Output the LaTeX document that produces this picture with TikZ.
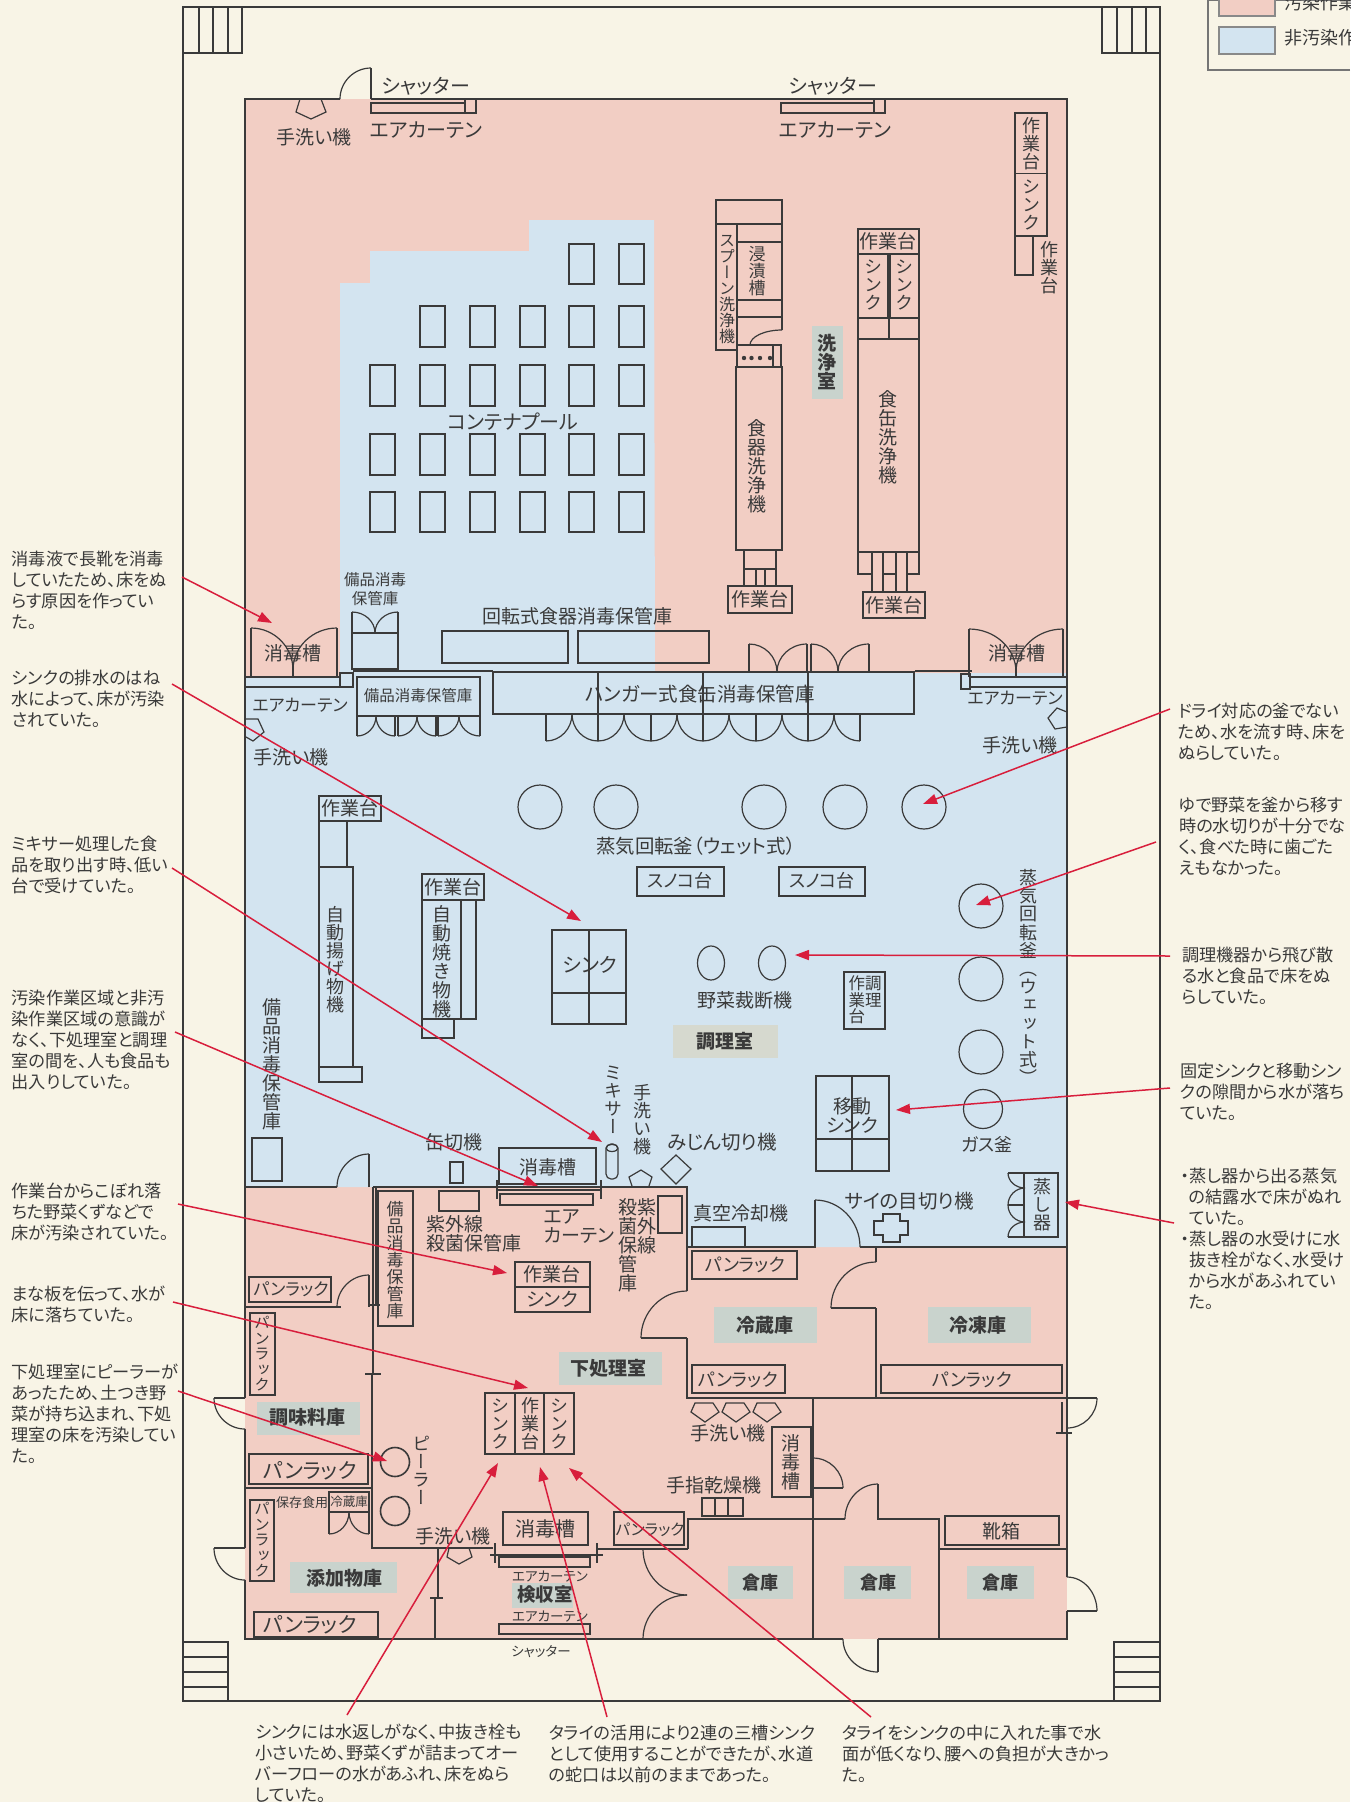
\documentclass[tikz,border=0pt]{standalone}
\usepackage{fontspec}
\usetikzlibrary{calc,arrows.meta}
\setmainfont{Noto Sans CJK JP}
\newfontfamily\vf[RawFeature={+vert}]{Noto Sans CJK JP}
\newfontfamily\pf[RawFeature={+palt}]{Noto Sans CJK JP}
\definecolor{paper}{HTML}{F8F4E6}
\definecolor{pinkz}{HTML}{F2CEC4}
\definecolor{bluez}{HTML}{D3E4F0}
\definecolor{ink}{HTML}{3A3A3A}
\definecolor{patchc}{HTML}{C9D3CD}
\definecolor{patchd}{HTML}{D6D9CF}
\definecolor{redl}{HTML}{D81E3C}
\newcommand\fs[1]{\fontsize{#1}{#1}\selectfont}
\newcommand\fp[1]{\pf\fontsize{#1}{#1}\selectfont}
\newcounter{nn}
\tikzset{
  wall/.style={draw=ink,line width=1.6pt,line join=miter},
  fur/.style={draw=ink,line width=1.2pt},
  tx/.style={font=\fp{19},inner sep=0pt,text=ink,align=center},
  vtx/.style={font=\vf\fs{18},inner sep=0pt,text=ink,align=center},
  note/.style={font=\pf\fontsize{17.2}{21}\selectfont,inner sep=0pt,text=ink,align=left,anchor=west},
  callout/.style={draw=redl,line width=1.5pt,-{Triangle[length=14pt,width=10pt]}}
}
\newcommand\T[4][]{\stepcounter{nn}\node[tx,#1] (t\arabic{nn}) at (#2,#3) {#4};}
\newcommand\Tv[4][]{\stepcounter{nn}\node[vtx,#1] (t\arabic{nn}) at (#2,#3) {#4};}
\newcommand\R[4]{\draw[fur] (#1,#2) rectangle (#3,#4);}
\newcommand\aH[4]{\draw[fur] (#1,#2) .. controls ($(#1,#2)!0.55!(#3,#2)$) and ($(#3,#4)!0.55!(#3,#2)$) .. (#3,#4);}
\newcommand\aV[4]{\draw[fur] (#1,#2) .. controls ($(#1,#2)!0.55!(#1,#4)$) and ($(#3,#4)!0.55!(#1,#4)$) .. (#3,#4);}
\begin{document}
\begin{tikzpicture}[x=1pt,y=-1pt]
\useasboundingbox (0,0) rectangle (1350,1802);
\fill[paper] (0,0) rectangle (1350,1802);
% floor colours
\fill[pinkz] (245,99) rectangle (1067,1639);
\fill[bluez] (529,220) -- (654,220) -- (655,673) -- (340,673) -- (340,283) -- (370,283) -- (370,251) -- (529,251) -- cycle;
\fill[bluez] (245,677) -- (340,677) -- (340,673) -- (1067,673) -- (1067,1247) -- (687,1247) -- (687,1187) -- (245,1187) -- cycle;
% patches
\fill[patchc] (812,326) rectangle (843,399);
\fill[patchd] (673,1025) rectangle (778,1058);
\fill[patchc] (559,1352) rectangle (662,1385);
\fill[patchc] (257,1402) rectangle (360,1435);
\fill[patchc] (290,1562) rectangle (397,1593);
\fill[patchc] (512,1583) rectangle (573,1608);
\fill[patchc] (714,1307) rectangle (817,1343);
\fill[patchc] (928,1307) rectangle (1031,1343);
\fill[patchc] (728,1566) rectangle (793,1599);
\fill[patchc] (844,1566) rectangle (911,1599);
\fill[patchc] (967,1566) rectangle (1034,1599);
% site boundary and stairs
\draw[wall] (183,7) rectangle (1160,1701);
\draw[fur] (183,53) -- (242,53) -- (242,7) (199,7) -- (199,53) (213,7) -- (213,53) (228,7) -- (228,53);
\draw[fur] (1160,53) -- (1102,53) -- (1102,7) (1117,7) -- (1117,53) (1132,7) -- (1132,53) (1146,7) -- (1146,53);
\draw[fur] (183,1642) -- (228,1642) -- (228,1701) (183,1657) -- (228,1657) (183,1672) -- (228,1672) (183,1687) -- (228,1687);
\draw[fur] (1159,1642) -- (1114,1642) -- (1114,1701) (1114,1657) -- (1159,1657) (1114,1672) -- (1159,1672) (1114,1687) -- (1159,1687);
% legend
\draw[draw=ink!70,line width=1.2pt,fill=paper] (1350,70) -- (1208,70) -- (1208,0) -- (1350,0);
\filldraw[fill=pinkz,draw=ink!60,line width=1.2pt] (1219,-3) rectangle (1275,16);
\filldraw[fill=bluez,draw=ink!60,line width=1.2pt] (1219,27) rectangle (1275,54);
\T[anchor=west,font=\fs{18}]{1284}{3}{汚染作業}
\T[anchor=west,font=\fs{18}]{1284}{38}{非汚染作業}
% outer walls
\draw[wall] (340,99) -- (245,99) -- (245,1398) (245,1429) -- (245,1548) (245,1580) -- (245,1639) -- (843,1639)
  (878,1639) -- (1067,1639) -- (1067,1611) (1067,1577) -- (1067,99) -- (371,99);
% inner walls
\draw[wall] (245,1187) -- (337,1187) (369,1187) -- (369,1154);
\draw[wall] (373,1187) -- (687,1187) -- (687,1291) (687,1338) -- (641,1338) (687,1338) -- (687,1398) -- (1067,1398);
\draw[fur] (497,1190) -- (601,1190) (497,1180) -- (497,1199) (601,1180) -- (601,1199);
\draw[wall] (373,1187) -- (373,1374) (372,1374) -- (372,1548) -- (493,1548);
\draw[fur] (369,1275) -- (369,1307) (376,1187) -- (376,1305) (368,1305) -- (380,1305) (365,1374) -- (381,1374);
\draw[wall] (245,1307) -- (341,1307) (245,1488) -- (372,1488);
\draw[wall] (687,1247) -- (815,1247) -- (815,1200) (860,1247) -- (1067,1247);
\draw[wall] (876,1247) -- (876,1262) (876,1308) -- (831,1308) (876,1308) -- (876,1398);
\draw[fur] (813,1398) -- (813,1639) (813,1488) -- (843,1488);
\draw[wall] (688,1549) -- (688,1519) -- (845,1519) (878,1484) -- (878,1519) -- (939,1519) -- (939,1639) (939,1549) -- (1067,1549);
\draw[wall] (597,1549) -- (688,1549) (490,1555) -- (603,1555) (495,1543) -- (495,1563) (597,1543) -- (597,1563);
\draw[wall] (438,1548) -- (438,1598) (435,1598) -- (435,1639) (430,1598) -- (443,1598);
% doors
\draw[wall] (371,99) -- (371,68);
\aH{371}{68}{340}{99}
\aH{369}{1154}{337}{1187}
\aH{369}{1275}{337}{1307}
\aH{687}{1291}{641}{1338}
\aH{815}{1200}{860}{1247}
\aH{876}{1262}{831}{1308}
\aH{878}{1484}{845}{1519}
\aV{843}{1488}{813}{1458}
\draw[wall] (878,1639) -- (878,1672);
\aH{878}{1672}{843}{1639}
\draw[wall] (1067,1611) -- (1097,1611) (1067,1398) -- (1097,1398) (245,1398) -- (214,1398) (245,1548) -- (214,1548);
\aV{1097}{1611}{1067}{1577}
\aV{1097}{1398}{1067}{1428}
\draw[fur] (1062,1402) -- (1062,1433) (1056,1433) -- (1072,1433);
\aV{214}{1398}{245}{1429}
\aV{214}{1548}{245}{1580}
\aV{643}{1549}{687}{1595}
\aV{643}{1639}{687}{1595}
% top fittings
\draw[fur] (300,99) -- (296,112) -- (311,119) -- (326,112) -- (321,99);
\T{314}{137}{手洗い機}
\R{371}{103}{465}{113} \R{465}{99}{476}{113}
\R{781}{103}{874}{113} \R{874}{99}{885}{113}
\T[font=\fp{20}]{426}{86}{シャッター} \T[font=\fp{20}]{426}{130}{エアカーテン}
\T[font=\fp{20}]{833}{86}{シャッター} \T[font=\fp{20}]{835}{130}{エアカーテン}
% container pool
\foreach \yy/\hh/\cols in {244/284/{569,619},306/347/{420,470,520,569,619},365/406/{370,420,470,520,569,619},434/475/{370,420,470,520,569,619},492/532/{370,420,470,520,569,619}}{
  \foreach \xx in \cols { \draw[fur] (\xx,\yy) rectangle ({\xx+25},\hh); }
}
\T[font=\fp{20}]{513}{422}{コンテナプール}
% washing room, right stack
\R{1015}{113}{1047}{173.5} \R{1015}{173.5}{1047}{236} \R{1015}{236}{1033}{275}
\Tv{1031}{144}{作\\業\\台} \Tv{1031}{205}{シ\\ン\\ク} \Tv{1049}{268}{作\\業\\台}
% spoon washer group
\R{716}{200}{782}{224} \R{716}{224}{737}{350}
\draw[fur] (782,224) -- (782,330) (737,242) -- (782,242) (737,300) -- (782,300) (737,317) -- (782,317) (737,345) -- (782,345);
\aH{782}{330}{750}{345}
\Tv[font=\vf\fs{16}]{727}{290}{ス\\プ\\ー\\ン\\洗\\浄\\機}
\Tv[font=\vf\fs{17}]{757}{271}{浸\\漬\\槽}
\R{737}{345}{781}{367}
\draw[fur] (773,345) -- (773,367);
\foreach \xx in {744,751.5,760,770} { \fill[ink] (\xx,358) circle (2.2); }
\R{736}{367}{782}{550}
\Tv[font=\vf\fs{19}]{757}{466}{食\\器\\洗\\浄\\機}
\R{744}{550}{776}{586}
\draw[fur] (744,569) -- (776,569) (756,569) -- (756,586) (765,569) -- (765,586);
\R{728}{586}{792}{613} \T{760}{599}{作業台}
\Tv[font=\vf\bfseries\fs{19}]{827}{362}{洗\\浄\\室}
% can washer
\R{858}{229}{919}{254} \T{888}{241}{作業台}
\R{858}{254}{888}{318} \R{890}{254}{919}{318}
\Tv{873}{285}{シ\\ン\\ク} \Tv{904}{285}{シ\\ン\\ク}
\R{858}{318}{919}{339} \draw[fur] (889,318) -- (889,339);
\R{858}{339}{919}{552}
\Tv[font=\vf\fs{19}]{888}{437}{食\\缶\\洗\\浄\\機}
\draw[fur] (858,552) -- (858,574) -- (872,574) (872,552) -- (872,592) (883,552) -- (883,592) (896,552) -- (896,592) (907,552) -- (907,592) (907,574) -- (919,574) -- (919,552) (883,574) -- (896,574);
\R{863}{592}{925}{618} \T{894}{605}{作業台}
% disinfect rooms top
\draw[fur] (251,677) -- (251,628) (337,677) -- (337,628) (293,663) -- (293,677);
\aH{251}{628}{293}{670} \aH{337}{628}{293}{670}
\T{293}{653}{消毒槽}
\draw[fur] (969,677) -- (969,629) (1063,677) -- (1063,629) (1016,663) -- (1016,677);
\aH{969}{629}{1016}{672} \aH{1063}{629}{1016}{672}
\T{1017}{653}{消毒槽}
% small cabinet
\T[font=\fp{15.5}]{375}{580}{備品消毒} \T[font=\fp{15.5}]{375}{599}{保管庫}
\R{352}{633}{398}{669}
\draw[fur] (352,633) -- (352,612) (398,633) -- (398,612);
\aH{352}{612}{375}{633} \aH{398}{612}{375}{633}
\T{577}{616}{回転式食器消毒保管庫}
\R{442}{631}{568}{663} \R{578}{631}{709}{663}
% air curtain strips
\R{245}{677}{340}{687} \R{340}{673}{353}{687}
\draw[wall] (353,671) -- (493,671) (915,671) -- (972,671);
\R{961}{674}{970}{689} \R{970}{677}{1067}{687}
\T[font=\fp{17}]{300}{705}{エアカーテン} \T[font=\fp{17}]{1015}{698}{エアカーテン}
\draw[fur] (246,719) -- (258,719) -- (264,732) -- (253,741) -- (246,737);
\T{291}{757}{手洗い機}
\draw[fur] (1067,712) -- (1057,708) -- (1048,718) -- (1055,729) -- (1067,727);
\T{1020}{745}{手洗い機}
% storage units
\R{357}{677}{480}{716} \T[font=\fp{15.5}]{418}{696}{備品消毒保管庫}
\foreach \xa/\xb/\xc in {357/376/395,398/417/436,438/459/480}{
  \draw[fur] (\xa,716) -- (\xa,736) (\xc,716) -- (\xc,736);
  \aH{\xa}{736}{\xb}{716} \aH{\xc}{736}{\xb}{716}
}
\R{493}{672}{914}{714}
\T[font=\fp{19.5}]{700}{694}{ハンガー式食缶消毒保管庫}
\foreach \xx in {598,703,808} { \draw[fur] (\xx,672) -- (\xx,714); }
\foreach \xa/\xb/\xc in {546/572/598,598/624/651,651/677/703,703/729/756,756/782/808,808/834/860}{
  \draw[fur] (\xa,714) -- (\xa,741) (\xc,714) -- (\xc,741);
  \aH{\xa}{741}{\xb}{714} \aH{\xc}{741}{\xb}{714}
}
\foreach \xa/\xb/\xc in {749/777/807,811/838/869}{
  \draw[fur] (\xa,672) -- (\xa,644) (\xc,672) -- (\xc,644);
  \aH{\xa}{644}{\xb}{672} \aH{\xc}{644}{\xb}{672}
}
% kettles
\foreach \xx in {540,616,764,845,924} { \draw[fur] (\xx,807) circle (22); }
\foreach \yy in {906,979,1052} { \draw[fur] (981,\yy) circle (22); }
\draw[fur] (983,1109) circle (19.5);
\T[font=\fp{19.4}]{696}{846}{蒸気回転釜（ウェット式）}
\T[font=\fp{18}]{987}{1144}{ガス釜}
\Tv[font=\vf\fontsize{18}{18.2}\selectfont]{1028}{977}{蒸\\気\\回\\転\\釜\\（\\ウ\\ェ\\ッ\\ト\\式\\）}
% cook room
\R{319}{796}{381}{821} \T{350}{808.5}{作業台}
\R{319}{821}{347}{867} \R{319}{867}{353}{1067} \R{319}{1067}{362}{1082}
\Tv{335}{960}{自\\動\\揚\\げ\\物\\機}
\R{422}{874}{484}{900} \T{453}{887}{作業台}
\R{422}{900}{461}{1019} \R{461}{900}{476}{1019} \R{422}{1019}{454}{1038}
\Tv[font=\vf\fs{19}]{442}{962}{自\\動\\焼\\き\\物\\機}
\R{552}{930}{626}{1024} \draw[fur] (589,930) -- (589,1024) (552,993) -- (626,993);
\T[font=\fp{20}]{590}{965}{シンク}
\R{637}{867}{724}{896} \T[font=\fp{18}]{680}{881}{スノコ台}
\R{779}{867}{865}{896} \T[font=\fp{18}]{822}{881}{スノコ台}
\draw[fur] (711,963) ellipse (13.5 and 17) (772,963) ellipse (13.5 and 17);
\T{745}{1000}{野菜裁断機}
\T[font=\pf\bfseries\fs{19}]{725}{1041}{調理室}
\R{844}{972}{885}{1029}
\T[font=\fp{16.5},align=left]{865}{1000}{作調\\業理\\台}
\R{816}{1076}{889}{1171} \draw[fur] (852,1076) -- (852,1171) (816,1139) -- (889,1139);
\T{852}{1115}{移動\\シンク}
\R{1024}{1173}{1058}{1237}
\draw[fur] (1008,1173) -- (1024,1173) (1008,1237) -- (1024,1237) (1008,1205) -- (1025,1205);
\aV{1008}{1173}{1025}{1188} \aH{1025}{1188}{1008}{1205} \aV{1008}{1205}{1025}{1222} \aH{1025}{1222}{1008}{1237}
\Tv{1042}{1205}{蒸\\し\\器}
\R{499}{1148}{596}{1184} \T{548}{1167}{消毒槽}
\Tv{613}{1100}{ミ\\キ\\サ\\ー}
\Tv{642}{1120}{手\\洗\\い\\機}
\draw[fur,rounded corners=5pt] (606,1144) rectangle (618,1179);
\draw[fur] (612,1148) ellipse (6 and 3.5);
\draw[fur] (632,1186) -- (629,1177) -- (641,1170) -- (652,1177) -- (649,1186);
\draw[fur] (676,1155) -- (691,1169) -- (676,1184) -- (661,1169) -- cycle;
\T[font=\fp{19.5}]{722}{1142}{みじん切り機}
\T{454}{1142}{缶切機}
\R{450}{1162}{463}{1183}
\Tv[font=\vf\fs{19}]{272}{1064}{備\\品\\消\\毒\\保\\管\\庫}
\R{252}{1138}{282}{1181}
% pre-treatment room
\R{378}{1191}{413}{1326} \Tv[font=\vf\fs{17}]{395}{1260}{備\\品\\消\\毒\\保\\管\\庫}
\R{439}{1191}{479}{1211}
\T[anchor=west,align=left]{426}{1234}{紫外線\\殺菌保管庫}
\R{500}{1194}{593}{1205}
\T[anchor=west,align=left]{544}{1227}{エア\\カーテン}
\T[anchor=west,align=left]{618}{1245}{殺紫\\菌外\\保線\\管\\庫}
\R{658}{1196}{682}{1233}
\R{515}{1262}{590}{1312} \draw[fur] (515,1287) -- (590,1287);
\T{552}{1274}{作業台} \T{552}{1299}{シンク}
\T[font=\pf\bfseries\fs{19}]{608}{1368}{下処理室}
\R{249}{1277}{331}{1302} \T[font=\fp{17}]{291}{1289}{パンラック}
\R{250}{1313}{275}{1395} \Tv[font=\vf\fs{15.5}]{262}{1354}{パ\\ン\\ラ\\ッ\\ク}
\T[font=\pf\bfseries\fs{19}]{307}{1417}{調味料庫}
\draw[wall] (485,1393) rectangle (574,1454) (515,1393) -- (515,1454) (544,1393) -- (544,1454);
\Tv{500}{1424}{シ\\ン\\ク} \Tv{530}{1424}{作\\業\\台} \Tv{559}{1424}{シ\\ン\\ク}
\Tv{421}{1470}{ピ\\ー\\ラ\\ー}
\draw[wall] (395,1462) circle (14.5) (395,1511) circle (14.5);
\R{249}{1454}{368}{1484} \T[font=\fp{21}]{310}{1471}{パンラック}
\R{250}{1500}{274}{1581} \Tv[font=\vf\fs{15.5}]{262}{1540}{パ\\ン\\ラ\\ッ\\ク}
\T[font=\fp{13}]{302}{1503}{保存食用}
\R{329}{1492}{369}{1512} \T[font=\fp{12.5}]{349}{1502}{冷蔵庫}
\draw[fur] (329,1512) -- (329,1534) (369,1512) -- (369,1534);
\aH{329}{1534}{349}{1512} \aH{369}{1534}{349}{1512}
\T[font=\pf\bfseries\fs{19}]{344}{1578}{添加物庫}
\R{254}{1612}{378}{1637} \T[font=\fp{21}]{310}{1625}{パンラック}
\T{453}{1536}{手洗い機}
\draw[fur] (449,1548) -- (447,1557) -- (459,1564) -- (472,1557) -- (469,1548);
\R{503}{1512}{588}{1545} \T[font=\fp{20}]{545}{1529}{消毒槽}
\R{614}{1512}{684}{1545} \T[font=\fp{15.5}]{650}{1530}{パンラック}
\R{499}{1557}{590}{1567} \R{499}{1624}{590}{1634}
\T[font=\fp{13.5}]{550}{1576}{エアカーテン}
\T[font=\fp{13.5}]{550}{1616}{エアカーテン}
\T[font=\pf\bfseries\fs{18.5}]{545}{1595}{検収室}
\T[font=\fp{13.5}]{541}{1652}{シャッター}
% right service rooms
\T{714}{1485}{手指乾燥機}
\R{702}{1498}{743}{1516} \draw[fur] (715,1498) -- (715,1516) (728,1498) -- (728,1516);
\R{772}{1427}{811}{1497} \Tv[font=\vf\fs{19}]{791}{1462}{消\\毒\\槽}
\foreach \cx in {705,736,767}{
  \draw[fur] ({\cx-10},1403) -- ({\cx+8},1403) -- ({\cx+14},1412) -- (\cx,1422) -- ({\cx-14},1412) -- cycle;
}
\T{728}{1433}{手洗い機}
\R{692}{1251}{797}{1279} \T[font=\fp{18}]{745}{1265}{パンラック}
\R{692}{1365}{785}{1393} \T[font=\fp{18}]{738}{1380}{パンラック}
\R{881}{1365}{1062}{1393} \T[font=\fp{18}]{972}{1380}{パンラック}
\T[font=\pf\bfseries\fs{19}]{765}{1325}{冷蔵庫}
\T[font=\pf\bfseries\fs{19}]{978}{1325}{冷凍庫}
\T{741}{1213}{真空冷却機}
\R{692}{1227}{745}{1247}
\T[font=\fp{19.5}]{909}{1201}{サイの目切り機}
\draw[fur] (883,1214) -- (900,1214) -- (900,1221) -- (908,1221) -- (908,1235) -- (900,1235) -- (900,1242) -- (883,1242) -- (883,1235) -- (874,1235) -- (874,1221) -- (883,1221) -- cycle;
\draw[wall] (945,1516) rectangle (1059,1545);
\T{1001}{1531}{靴箱}
\T[font=\pf\bfseries\fs{18}]{760}{1583}{倉庫}
\T[font=\pf\bfseries\fs{18}]{878}{1583}{倉庫}
\T[font=\pf\bfseries\fs{18}]{1000}{1583}{倉庫}
% annotations
\node[note] (nA) at (11.5,590) {消毒液で長靴を消毒\\していたため、床をぬ\\らす原因を作ってい\\た。};
\node[note] (nB) at (11.5,699) {シンクの排水のはね\\水によって、床が汚染\\されていた。};
\node[note] (nC) at (11.5,865) {ミキサー処理した食\\品を取り出す時、低い\\台で受けていた。};
\node[note] (nD) at (11.5,1040) {汚染作業区域と非汚\\染作業区域の意識が\\なく、下処理室と調理\\室の間を、人も食品も\\出入りしていた。};
\node[note] (nE) at (11.5,1212) {作業台からこぼれ落\\ちた野菜くずなどで\\床が汚染されていた。};
\node[note] (nF) at (11.5,1304) {まな板を伝って、水が\\床に落ちていた。};
\node[note] (nG) at (11.5,1414) {下処理室にピーラーが\\あったため、土つき野\\菜が持ち込まれ、下処\\理室の床を汚染してい\\た。};
\node[note] (nH) at (1178,732) {ドライ対応の釜でない\\ため、水を流す時、床を\\ぬらしていた。};
\node[note] (nI) at (1179,836) {ゆで野菜を釜から移す\\時の水切りが十分でな\\く、食べた時に歯ごた\\えもなかった。};
\node[note] (nJ) at (1182,976) {調理機器から飛び散\\る水と食品で床をぬ\\らしていた。};
\node[note] (nK) at (1180,1092) {固定シンクと移動シン\\クの隙間から水が落ち\\ていた。};
\node[note] (nL) at (1181,1239) {・蒸し器から出る蒸気\\\hspace*{8pt}の結露水で床がぬれ\\\hspace*{8pt}ていた。\\・蒸し器の水受けに水\\\hspace*{8pt}抜き栓がなく、水受け\\\hspace*{8pt}から水があふれてい\\\hspace*{8pt}た。};
\node[note] (nM) at (255,1763) {シンクには水返しがなく、中抜き栓も\\小さいため、野菜くずが詰まってオー\\バーフローの水があふれ、床をぬら\\していた。};
\node[note] (nN) at (549,1754) {タライの活用により2連の三槽シンク\\として使用することができたが、水道\\の蛇口は以前のままであった。};
\node[note] (nO) at (842,1754) {タライをシンクの中に入れた事で水\\面が低くなり、腰への負担が大きかっ\\た。};
% arrows
\foreach \nm/\sx/\sy/\ex/\ey in {a/182/577/272/623,b/172/684/581/921,c/172/868/602/1142,d/175/1032/538/1186,e/178/1204/507/1273,f/173/1302/528/1388,g/178/1391/387/1461,h/1170/709/923/804,i/1156/842/976/905,j/1170/956/795/955,k/1170/1088/896/1110,l/1174/1223/1065/1202,m/347/1715/498/1463,n/607/1717/540/1467,o/871/1717/569/1468}{
  \coordinate (s\nm) at (\sx,\sy);
  \coordinate (e\nm) at (\ex,\ey);
  \draw[callout] (s\nm) -- (e\nm);
}
\end{tikzpicture}
\end{document}
